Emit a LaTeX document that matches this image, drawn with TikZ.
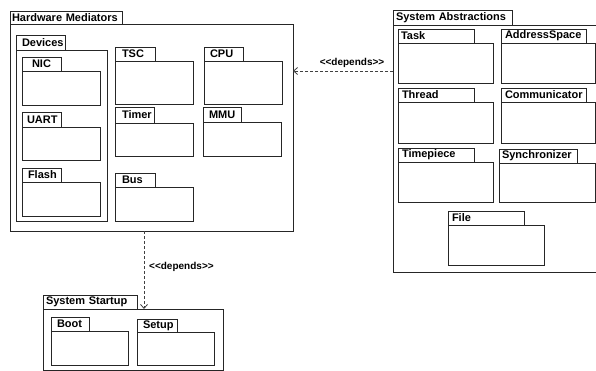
\documentclass[tikz,border=0pt]{standalone}
\usepackage{fontspec}
\setmainfont[Ligatures=NoCommon]{Liberation Sans}
\usetikzlibrary{arrows.meta}
\tikzset{
  pkgline/.style={draw=black!85, line width=0.8pt},
  pkgbody/.style={pkgline, rectangle, inner sep=0pt, outer sep=0pt, anchor=north west},
  pkgtab/.style={pkgline, rectangle, inner xsep=0pt, inner ysep=0pt, outer sep=0pt,
     anchor=south west, align=left, font=\fontsize{11}{12}\selectfont\bfseries},
  dep/.style={draw=black!75, line width=0.8pt, dash pattern=on 3pt off 2pt,
     -{Straight Barb[length=4pt,width=7pt,line width=0.8pt]}},
  deplabel/.style={font=\fontsize{10}{11}\selectfont\bfseries, inner sep=0pt}
}
% name, x1, tab top, tab right, tab bottom, x2, y2, label, text offset
\newcommand\umlpkg[9]{%
  \node[pkgbody, minimum width={(#6-#2)*1pt}, minimum height={(#7-#5)*1pt}] (#1) at (#2,#5) {};
  \node[pkgtab, text width={(#4-#2)*1pt}, minimum height={(#5-#3)*1pt}] (#1-tab) at (#2,#5) {\hspace*{#9pt}#8};
}
\newcommand\deptext{{<}{<}depends{>}{>}}
\begin{document}
\begin{tikzpicture}[x=1pt,y=-1pt]
\useasboundingbox (0,0) rectangle (596,371);
\clip (0,0) rectangle (596,371);
\fill[white] (0,0) rectangle (596,371);
% Hardware Mediators
\umlpkg{hm}{10}{11}{122}{24}{293}{231}{Hardware Mediators}{2}
\umlpkg{dev}{16}{35}{65}{50}{107}{221}{Devices}{6}
\umlpkg{nic}{22}{57}{61}{71}{100}{105}{NIC}{10}
\umlpkg{uart}{22}{112}{61}{127}{100}{160}{UART}{5}
\umlpkg{flash}{22}{168}{61}{182}{100}{216}{Flash}{6}
\umlpkg{tsc}{115}{47}{155}{61}{193}{104}{TSC}{7}
\umlpkg{timer}{115}{107}{154}{123}{193}{156}{Timer}{7}
\umlpkg{bus}{115}{173}{155}{187}{193}{221}{Bus}{7}
\umlpkg{cpu}{204}{47}{243}{61}{282}{104}{CPU}{6}
\umlpkg{mmu}{203}{107}{241}{122}{281}{156}{MMU}{6}
% System Abstractions
\umlpkg{sa}{393}{10}{512}{25}{599}{272}{System Abstractions}{3}
\umlpkg{task}{398}{29}{474}{43}{493}{83}{Task}{3}
\umlpkg{as}{501}{29}{586}{43}{595}{83}{AddressSpace}{4}
\umlpkg{thread}{398}{88}{474}{102}{493}{143}{Thread}{4}
\umlpkg{comm}{501}{88}{586}{102}{595}{143}{Communicator}{4}
\umlpkg{tp}{398}{148}{474}{162}{493}{202}{Timepiece}{4}
\umlpkg{sync}{499}{149}{577}{163}{595}{202}{Synchronizer}{3}
\umlpkg{file}{448}{211}{524}{225}{544}{265}{File}{4}
% System Startup
\umlpkg{ss}{43}{295}{137}{309}{223}{370}{System Startup}{3}
\umlpkg{boot}{51}{317}{89}{331}{128}{365}{Boot}{6}
\umlpkg{setup}{137}{319}{177}{332}{214}{365}{Setup}{6}
% dependencies
\coordinate (d1) at (350,71);
\coordinate (d2) at (144,300);
\draw[dep] (sa.west |- d1) -- (hm.east |- d1);
\draw[dep] (hm.south -| d2) -- (ss.north -| d2);
\node[deplabel] (l1) at (352,63) {\deptext};
\node[deplabel, anchor=west] (l2) at (149,267) {\deptext};
\end{tikzpicture}
\end{document}
